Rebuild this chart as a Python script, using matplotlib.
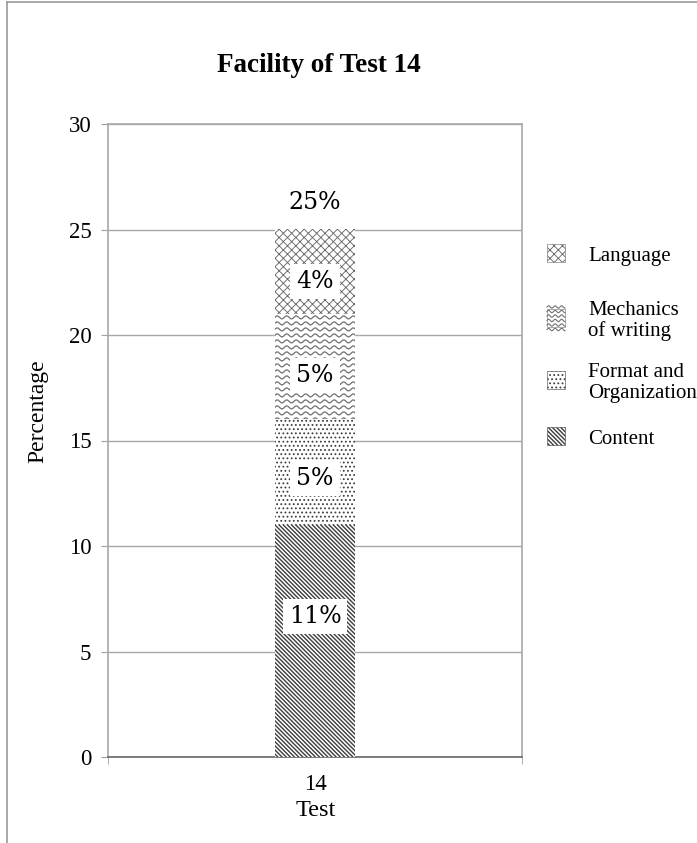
import numpy as np
import matplotlib
matplotlib.use("Agg")
import matplotlib.pyplot as plt
from matplotlib.patches import Rectangle
from matplotlib.lines import Line2D

# stacked components of the facility score for test 14
categories = ["14"]
components = ["Content", "Format and\nOrganization", "Mechanics\nof writing", "Language"]
values = [11, 5, 5, 4]
total_label = "25%"

# fill styles per component (None -> wavy lines drawn by hand)
hatches = ["\\" * 8, "." * 4, None, "x" * 4]
hatch_colors = ["#3c3c3c", "#404040", "#707070", "#6a6a6a"]
hatch_widths = [1.0, 0.8, 0.9, 0.65]
# where each label sits relative to the middle of its segment
label_shift = [1.17, -0.3, -0.4, -0.45]

plt.rcParams["font.family"] = ["Liberation Serif", "DejaVu Serif"]

W, H = 697, 843
fig = plt.figure(figsize=(W / 100, H / 100), dpi=100)
ax = fig.add_axes([108 / W, 1 - 757 / H, (522 - 108) / W, (757 - 124) / H])

bar_w = 0.194
x = np.arange(len(categories))
bottom = np.zeros(len(categories))
bars = []
for val, hatch, hc, hw, name in zip(values, hatches, hatch_colors, hatch_widths, components):
    with plt.rc_context({"hatch.linewidth": hw}):
        b = ax.bar(x, [val], width=bar_w, bottom=bottom, facecolor="white",
                   edgecolor=hc, hatch=hatch, linewidth=0, label=name, zorder=3)
    for p in b.patches:
        if hasattr(p, "set_hatch_linewidth"):
            p.set_hatch_linewidth(hw)
    bars.append(b)
    bottom = bottom + val

ax.set_xlim(-0.5, 0.5)
ax.set_ylim(0, 30)


def wave_rows(x0, x1, y0, y1, spacing, wavelength, amp):
    """sine rows in pixel units covering the box"""
    xs = np.linspace(x0, x1, 200)
    rows = []
    y = y0 - spacing
    while y < y1 + spacing:
        rows.append((xs, y + amp * np.sin(2 * np.pi * (xs - x0) / wavelength)))
        y += spacing
    return rows


# wavy fill for the mechanics segment, clipped to its rectangle
mech = bars[2].patches[0]
(px0, py0), (px1, py1) = ax.transData.transform(
    [(mech.get_x(), mech.get_y()), (mech.get_x() + mech.get_width(), mech.get_y() + mech.get_height())])
inv = ax.transData.inverted()
for xs, ys in wave_rows(px0, px1, py0, py1, 6.0, 9.5, 1.5):
    pts = inv.transform(np.column_stack([xs, ys]))
    ln, = ax.plot(pts[:, 0], pts[:, 1], color=hatch_colors[2], lw=0.9, zorder=4)
    ln.set_clip_path(mech)

# percentage labels in white boxes
bottom = 0
for val, dy in zip(values, label_shift):
    ax.text(0, bottom + val / 2 + dy, f"{val}%", ha="center", va="center", fontsize=17,
            family=["DejaVu Serif"], zorder=6,
            bbox=dict(boxstyle="square,pad=0.25", facecolor="white", edgecolor="none"))
    bottom += val
ax.text(0, sum(values) + 1.3, total_label, ha="center", va="center", fontsize=17,
        family=["DejaVu Serif"], zorder=6)

ax.yaxis.grid(True, color="#a8a8a8", lw=1, zorder=0)
ax.set_axisbelow(True)
ax.set_yticks(np.arange(0, 31, 5))
ax.tick_params(axis="y", labelsize=16.5, length=5, color="#a0a0a0", pad=7)
ax.set_xticks(x)
ax.set_xticklabels(categories)
ax.set_xticks([-0.5, 0.5], minor=True)
ax.tick_params(axis="x", which="major", length=0, labelsize=16.5, pad=12)
ax.tick_params(axis="x", which="minor", length=5, color="#a0a0a0")
for s in ["left", "right", "top"]:
    ax.spines[s].set_color("#a8a8a8")
    ax.spines[s].set_linewidth(1.2)
ax.spines["bottom"].set_color("#666666")
ax.spines["bottom"].set_linewidth(1.2)

fig.text(319 / W, 1 - 66 / H, "Facility of Test 14", ha="center", va="center",
         fontsize=19.5, fontweight="bold")
fig.text(38 / W, 1 - 411 / H, "Percentage", ha="center", va="center",
         fontsize=17, rotation=90)
fig.text(316 / W, 1 - 810 / H, "Test", ha="center", va="center", fontsize=17.5)

# legend, top entry first, laid out in figure pixels
legend_rows = [253, 318, 380, 436]
key = 18
for i, yc in enumerate(legend_rows):
    k = len(components) - 1 - i
    x0, y0 = 547, H - yc - key / 2
    box = Rectangle((x0 / W, y0 / H), key / W, key / H, transform=fig.transFigure,
                    facecolor="white", edgecolor=hatch_colors[k], lw=0.4,
                    hatch=hatches[k])
    if hasattr(box, "set_hatch_linewidth"):
        box.set_hatch_linewidth(hatch_widths[k])
    fig.add_artist(box)
    if hatches[k] is None:
        for xs, ys in wave_rows(x0, x0 + key, y0 + 2, y0 + key - 2, 4.5, 6.5, 1.2):
            fig.add_artist(Line2D(xs / W, ys / H, color=hatch_colors[k], lw=0.8))
    fig.text(588 / W, 1 - (yc + 3) / H, components[k], ha="left", va="center",
             fontsize=15, linespacing=1.12)

# page border lines on top and left
fig.add_artist(Line2D([7 / W, 1], [1 - 2 / H, 1 - 2 / H], color="#999999", lw=1.2))
fig.add_artist(Line2D([7 / W, 7 / W], [0, 1 - 2 / H], color="#999999", lw=1.2))

fig.savefig("out.png", dpi=100)
